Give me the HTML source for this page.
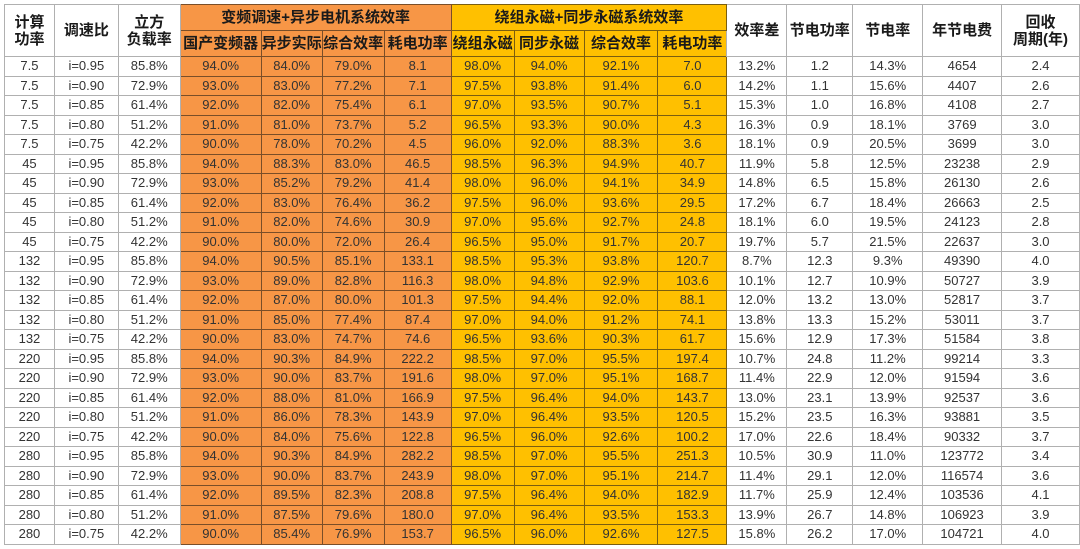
<!DOCTYPE html>
<html><head><meta charset="utf-8"><style>
html,body{margin:0;padding:0;background:#fff;width:1080px;height:549px;overflow:hidden}
table{position:absolute;left:4px;top:4px;border-collapse:collapse;table-layout:fixed;font-family:"Liberation Sans","Noto Sans CJK SC",sans-serif;font-size:13px;color:#333}
td{border:1px solid #b0b0b0;text-align:center;padding:0;height:18.5px;line-height:18px;white-space:nowrap;overflow:hidden}
th{border:1px solid #b0b0b0;font-weight:bold;font-size:15px;padding:0;line-height:17px;color:#1a1a1a;white-space:nowrap;overflow:hidden}
.o{background:#F79646;border-color:#7a4e28}
.y{background:#FFC000;border-color:#7a5e10}
tr.h1 th{height:25px}tr.h2 th{height:25px}
</style></head><body>
<table>
<colgroup><col style="width:50px"><col style="width:64px"><col style="width:62px"><col style="width:81px"><col style="width:59px"><col style="width:62px"><col style="width:67px"><col style="width:63px"><col style="width:70px"><col style="width:74px"><col style="width:69px"><col style="width:60px"><col style="width:66px"><col style="width:70px"><col style="width:79px"><col style="width:78px"></colgroup>
<tr class="h1"><th rowspan="2">计算<br>功率</th><th rowspan="2">调速比</th><th rowspan="2">立方<br>负载率</th><th colspan="4" class="o">变频调速+异步电机系统效率</th><th colspan="4" class="y">绕组永磁+同步永磁系统效率</th><th rowspan="2">效率差</th><th rowspan="2">节电功率</th><th rowspan="2">节电率</th><th rowspan="2">年节电费</th><th rowspan="2">回收<br>周期(年)</th></tr>
<tr class="h2"><th class="o">国产变频器</th><th class="o">异步实际</th><th class="o">综合效率</th><th class="o">耗电功率</th><th class="y">绕组永磁</th><th class="y">同步永磁</th><th class="y">综合效率</th><th class="y">耗电功率</th></tr>
<tr><td>7.5</td><td>i=0.95</td><td>85.8%</td><td class="o">94.0%</td><td class="o">84.0%</td><td class="o">79.0%</td><td class="o">8.1</td><td class="y">98.0%</td><td class="y">94.0%</td><td class="y">92.1%</td><td class="y">7.0</td><td>13.2%</td><td>1.2</td><td>14.3%</td><td>4654</td><td>2.4</td></tr>
<tr><td>7.5</td><td>i=0.90</td><td>72.9%</td><td class="o">93.0%</td><td class="o">83.0%</td><td class="o">77.2%</td><td class="o">7.1</td><td class="y">97.5%</td><td class="y">93.8%</td><td class="y">91.4%</td><td class="y">6.0</td><td>14.2%</td><td>1.1</td><td>15.6%</td><td>4407</td><td>2.6</td></tr>
<tr><td>7.5</td><td>i=0.85</td><td>61.4%</td><td class="o">92.0%</td><td class="o">82.0%</td><td class="o">75.4%</td><td class="o">6.1</td><td class="y">97.0%</td><td class="y">93.5%</td><td class="y">90.7%</td><td class="y">5.1</td><td>15.3%</td><td>1.0</td><td>16.8%</td><td>4108</td><td>2.7</td></tr>
<tr><td>7.5</td><td>i=0.80</td><td>51.2%</td><td class="o">91.0%</td><td class="o">81.0%</td><td class="o">73.7%</td><td class="o">5.2</td><td class="y">96.5%</td><td class="y">93.3%</td><td class="y">90.0%</td><td class="y">4.3</td><td>16.3%</td><td>0.9</td><td>18.1%</td><td>3769</td><td>3.0</td></tr>
<tr><td>7.5</td><td>i=0.75</td><td>42.2%</td><td class="o">90.0%</td><td class="o">78.0%</td><td class="o">70.2%</td><td class="o">4.5</td><td class="y">96.0%</td><td class="y">92.0%</td><td class="y">88.3%</td><td class="y">3.6</td><td>18.1%</td><td>0.9</td><td>20.5%</td><td>3699</td><td>3.0</td></tr>
<tr><td>45</td><td>i=0.95</td><td>85.8%</td><td class="o">94.0%</td><td class="o">88.3%</td><td class="o">83.0%</td><td class="o">46.5</td><td class="y">98.5%</td><td class="y">96.3%</td><td class="y">94.9%</td><td class="y">40.7</td><td>11.9%</td><td>5.8</td><td>12.5%</td><td>23238</td><td>2.9</td></tr>
<tr><td>45</td><td>i=0.90</td><td>72.9%</td><td class="o">93.0%</td><td class="o">85.2%</td><td class="o">79.2%</td><td class="o">41.4</td><td class="y">98.0%</td><td class="y">96.0%</td><td class="y">94.1%</td><td class="y">34.9</td><td>14.8%</td><td>6.5</td><td>15.8%</td><td>26130</td><td>2.6</td></tr>
<tr><td>45</td><td>i=0.85</td><td>61.4%</td><td class="o">92.0%</td><td class="o">83.0%</td><td class="o">76.4%</td><td class="o">36.2</td><td class="y">97.5%</td><td class="y">96.0%</td><td class="y">93.6%</td><td class="y">29.5</td><td>17.2%</td><td>6.7</td><td>18.4%</td><td>26663</td><td>2.5</td></tr>
<tr><td>45</td><td>i=0.80</td><td>51.2%</td><td class="o">91.0%</td><td class="o">82.0%</td><td class="o">74.6%</td><td class="o">30.9</td><td class="y">97.0%</td><td class="y">95.6%</td><td class="y">92.7%</td><td class="y">24.8</td><td>18.1%</td><td>6.0</td><td>19.5%</td><td>24123</td><td>2.8</td></tr>
<tr><td>45</td><td>i=0.75</td><td>42.2%</td><td class="o">90.0%</td><td class="o">80.0%</td><td class="o">72.0%</td><td class="o">26.4</td><td class="y">96.5%</td><td class="y">95.0%</td><td class="y">91.7%</td><td class="y">20.7</td><td>19.7%</td><td>5.7</td><td>21.5%</td><td>22637</td><td>3.0</td></tr>
<tr><td>132</td><td>i=0.95</td><td>85.8%</td><td class="o">94.0%</td><td class="o">90.5%</td><td class="o">85.1%</td><td class="o">133.1</td><td class="y">98.5%</td><td class="y">95.3%</td><td class="y">93.8%</td><td class="y">120.7</td><td>8.7%</td><td>12.3</td><td>9.3%</td><td>49390</td><td>4.0</td></tr>
<tr><td>132</td><td>i=0.90</td><td>72.9%</td><td class="o">93.0%</td><td class="o">89.0%</td><td class="o">82.8%</td><td class="o">116.3</td><td class="y">98.0%</td><td class="y">94.8%</td><td class="y">92.9%</td><td class="y">103.6</td><td>10.1%</td><td>12.7</td><td>10.9%</td><td>50727</td><td>3.9</td></tr>
<tr><td>132</td><td>i=0.85</td><td>61.4%</td><td class="o">92.0%</td><td class="o">87.0%</td><td class="o">80.0%</td><td class="o">101.3</td><td class="y">97.5%</td><td class="y">94.4%</td><td class="y">92.0%</td><td class="y">88.1</td><td>12.0%</td><td>13.2</td><td>13.0%</td><td>52817</td><td>3.7</td></tr>
<tr><td>132</td><td>i=0.80</td><td>51.2%</td><td class="o">91.0%</td><td class="o">85.0%</td><td class="o">77.4%</td><td class="o">87.4</td><td class="y">97.0%</td><td class="y">94.0%</td><td class="y">91.2%</td><td class="y">74.1</td><td>13.8%</td><td>13.3</td><td>15.2%</td><td>53011</td><td>3.7</td></tr>
<tr><td>132</td><td>i=0.75</td><td>42.2%</td><td class="o">90.0%</td><td class="o">83.0%</td><td class="o">74.7%</td><td class="o">74.6</td><td class="y">96.5%</td><td class="y">93.6%</td><td class="y">90.3%</td><td class="y">61.7</td><td>15.6%</td><td>12.9</td><td>17.3%</td><td>51584</td><td>3.8</td></tr>
<tr><td>220</td><td>i=0.95</td><td>85.8%</td><td class="o">94.0%</td><td class="o">90.3%</td><td class="o">84.9%</td><td class="o">222.2</td><td class="y">98.5%</td><td class="y">97.0%</td><td class="y">95.5%</td><td class="y">197.4</td><td>10.7%</td><td>24.8</td><td>11.2%</td><td>99214</td><td>3.3</td></tr>
<tr><td>220</td><td>i=0.90</td><td>72.9%</td><td class="o">93.0%</td><td class="o">90.0%</td><td class="o">83.7%</td><td class="o">191.6</td><td class="y">98.0%</td><td class="y">97.0%</td><td class="y">95.1%</td><td class="y">168.7</td><td>11.4%</td><td>22.9</td><td>12.0%</td><td>91594</td><td>3.6</td></tr>
<tr><td>220</td><td>i=0.85</td><td>61.4%</td><td class="o">92.0%</td><td class="o">88.0%</td><td class="o">81.0%</td><td class="o">166.9</td><td class="y">97.5%</td><td class="y">96.4%</td><td class="y">94.0%</td><td class="y">143.7</td><td>13.0%</td><td>23.1</td><td>13.9%</td><td>92537</td><td>3.6</td></tr>
<tr><td>220</td><td>i=0.80</td><td>51.2%</td><td class="o">91.0%</td><td class="o">86.0%</td><td class="o">78.3%</td><td class="o">143.9</td><td class="y">97.0%</td><td class="y">96.4%</td><td class="y">93.5%</td><td class="y">120.5</td><td>15.2%</td><td>23.5</td><td>16.3%</td><td>93881</td><td>3.5</td></tr>
<tr><td>220</td><td>i=0.75</td><td>42.2%</td><td class="o">90.0%</td><td class="o">84.0%</td><td class="o">75.6%</td><td class="o">122.8</td><td class="y">96.5%</td><td class="y">96.0%</td><td class="y">92.6%</td><td class="y">100.2</td><td>17.0%</td><td>22.6</td><td>18.4%</td><td>90332</td><td>3.7</td></tr>
<tr><td>280</td><td>i=0.95</td><td>85.8%</td><td class="o">94.0%</td><td class="o">90.3%</td><td class="o">84.9%</td><td class="o">282.2</td><td class="y">98.5%</td><td class="y">97.0%</td><td class="y">95.5%</td><td class="y">251.3</td><td>10.5%</td><td>30.9</td><td>11.0%</td><td>123772</td><td>3.4</td></tr>
<tr><td>280</td><td>i=0.90</td><td>72.9%</td><td class="o">93.0%</td><td class="o">90.0%</td><td class="o">83.7%</td><td class="o">243.9</td><td class="y">98.0%</td><td class="y">97.0%</td><td class="y">95.1%</td><td class="y">214.7</td><td>11.4%</td><td>29.1</td><td>12.0%</td><td>116574</td><td>3.6</td></tr>
<tr><td>280</td><td>i=0.85</td><td>61.4%</td><td class="o">92.0%</td><td class="o">89.5%</td><td class="o">82.3%</td><td class="o">208.8</td><td class="y">97.5%</td><td class="y">96.4%</td><td class="y">94.0%</td><td class="y">182.9</td><td>11.7%</td><td>25.9</td><td>12.4%</td><td>103536</td><td>4.1</td></tr>
<tr><td>280</td><td>i=0.80</td><td>51.2%</td><td class="o">91.0%</td><td class="o">87.5%</td><td class="o">79.6%</td><td class="o">180.0</td><td class="y">97.0%</td><td class="y">96.4%</td><td class="y">93.5%</td><td class="y">153.3</td><td>13.9%</td><td>26.7</td><td>14.8%</td><td>106923</td><td>3.9</td></tr>
<tr><td>280</td><td>i=0.75</td><td>42.2%</td><td class="o">90.0%</td><td class="o">85.4%</td><td class="o">76.9%</td><td class="o">153.7</td><td class="y">96.5%</td><td class="y">96.0%</td><td class="y">92.6%</td><td class="y">127.5</td><td>15.8%</td><td>26.2</td><td>17.0%</td><td>104721</td><td>4.0</td></tr>
</table>
</body></html>
